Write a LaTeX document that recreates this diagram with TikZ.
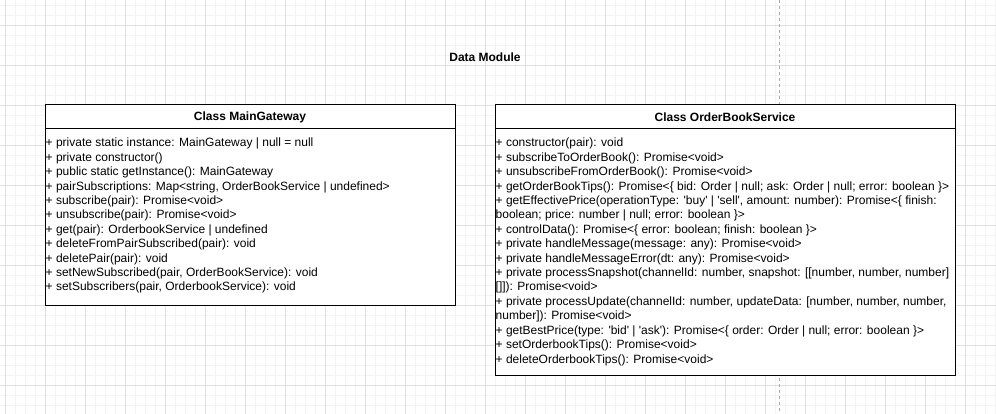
\documentclass[tikz,border=0pt]{standalone}
\usepackage{fontspec}
\setmainfont{Liberation Sans}
\usetikzlibrary{positioning}
\definecolor{majorgrid}{RGB}{224,224,224}
\definecolor{minorgrid}{RGB}{243,243,243}
\definecolor{pagebreak}{RGB}{170,170,170}
\tikzset{
    %Define style for the class boxes
    classhead/.style={
           rectangle,
           draw=black, line width=1pt,
           fill=white,
           outer sep=0pt,
           minimum height=24pt,
           font=\fontsize{12}{14.4}\selectfont\bfseries,
           text centered},
    classbody/.style={
           rectangle,
           draw=black, line width=1pt,
           fill=white,
           outer sep=0pt},
    %Define style for the member lines
    member/.style={
           anchor=base west,
           inner sep=0pt,
           font=\fontsize{12}{14.4}\selectfont},
    % Define grid styles
    fine/.style={draw=minorgrid, line width=0.8pt},
    coarse/.style={draw=majorgrid, line width=0.8pt}
}

\begin{document}
\begin{tikzpicture}[x=1pt,y=-1pt,node distance=40pt]
\useasboundingbox (0,0) rectangle (996,414);
% background grid
\foreach \x in {5,15,...,995} \draw[fine] (\x,0) -- (\x,414);
\foreach \y in {5,15,...,405} \draw[fine] (0,\y) -- (996,\y);
\foreach \x in {5,45,...,965} \draw[coarse] (\x,0) -- (\x,414);
\foreach \y in {25,65,...,385} \draw[coarse] (0,\y) -- (996,\y);
\coordinate (pbtop) at (779,0);
\coordinate (pbbot) at (779,414);
\draw[pagebreak, line width=0.8pt, dash pattern=on 3pt off 3pt] (pbtop) -- (pbbot);

\node[font=\fontsize{12}{14.4}\selectfont\bfseries] (title) at (485,57) {Data Module};

\node[classhead, minimum width=410pt] (gwhead) at (250,117) {Class MainGateway};
\node[classbody, minimum width=410pt, minimum height=176pt, below=0pt of gwhead] (gwbody) {};
\node[classhead, minimum width=460pt, right=40pt of gwhead] (obshead) {Class OrderBookService};
\node[classbody, minimum width=460pt, minimum height=246pt, below=0pt of obshead] (obsbody) {};

\foreach \txt [count=\i] in {
    {+ private static instance: MainGateway | null = null},
    {+ private constructor()},
    {+ public static getInstance(): MainGateway},
    {+ pairSubscriptions: Map<string, OrderBookService | undefined>},
    {+ subscribe(pair): Promise<void>},
    {+ unsubscribe(pair): Promise<void>},
    {+ get(pair): OrderbookService | undefined},
    {+ deleteFromPairSubscribed(pair): void},
    {+ deletePair(pair): void},
    {+ setNewSubscribed(pair, OrderBookService): void},
    {+ setSubscribers(pair, OrderbookService): void}}
  \node[member] (gw\i) at ([xshift=0.5pt,yshift={-18pt-(\i-1)*14.4pt}] gwbody.north west) {\txt};

\foreach \txt [count=\i] in {
    {+ constructor(pair): void},
    {+ subscribeToOrderBook(): Promise<void>},
    {+ unsubscribeFromOrderBook(): Promise<void>},
    {+ getOrderBookTips(): Promise<\{ bid: Order | null; ask: Order | null; error: boolean \}>},
    {+ getEffectivePrice(operationType: \textquotesingle buy\textquotesingle\ | \textquotesingle sell\textquotesingle, amount: number): Promise<\{ finish:},
    {boolean; price: number | null; error: boolean \}>},
    {+ controlData(): Promise<\{ error: boolean; finish: boolean \}>},
    {+ private handleMessage(message: any): Promise<void>},
    {+ private handleMessageError(dt: any): Promise<void>},
    {+ private processSnapshot(channelId: number, snapshot: [[number, number, number]},
    {[]]): Promise<void>},
    {+ private processUpdate(channelId: number, updateData: [number, number, number,},
    {number]): Promise<void>},
    {+ getBestPrice(type: \textquotesingle bid\textquotesingle\ | \textquotesingle ask\textquotesingle): Promise<\{ order: Order | null; error: boolean \}>},
    {+ setOrderbookTips(): Promise<void>},
    {+ deleteOrderbookTips(): Promise<void>}}
  \node[member] (obs\i) at ([xshift=0.5pt,yshift={-18pt-(\i-1)*14.4pt}] obsbody.north west) {\txt};

\end{tikzpicture}
\end{document}
